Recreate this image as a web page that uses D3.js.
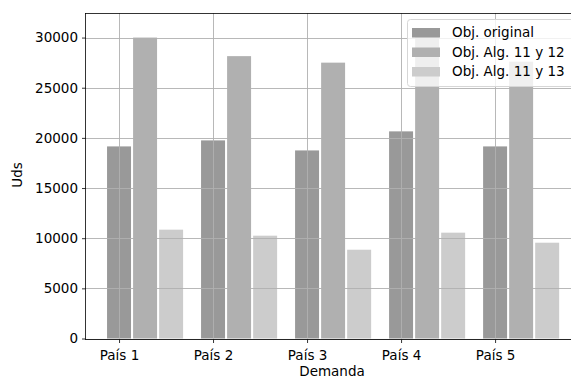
<!DOCTYPE html>
<html>
  <head>
    <meta charset="utf-8" />
    <title>Demanda por país</title>
    <script src="https://d3js.org/d3.v7.min.js"></script>
    <style>
      body { margin: 0; background: #fff; }
      text { font-family: "DejaVu Sans", sans-serif; fill: #000; }
    </style>
  </head>
  <body>
    <script>
      let categories = ["País 1", "País 2", "País 3", "País 4", "País 5"];
      let seriesNames = ["Obj. original", "Obj. Alg. 11 y 12", "Obj. Alg. 11 y 13"];
      let original = [19150, 19750, 18750, 20650, 19150];
      let alg1112 = [30000, 28150, 27500, 30700, 27600];
      let alg1113 = [10850, 10250, 8850, 10550, 9550];
      let yTicks = [0, 5000, 10000, 15000, 20000, 25000, 30000];

      let series = [original, alg1112, alg1113];
      let colors = ["#999999", "#b0b0b0", "#cccccc"];

      let width = 571;
      let height = 383;
      let margin = { left: 85, right: -4, top: 13, bottom: 45 };

      let svg = d3
        .select("body")
        .append("svg")
        .attr("width", width)
        .attr("height", height);

      // x: group i sits at i, bars offset by a fixed step
      let barStep = 0.277;
      let barWidth = 0.255;
      let x = d3
        .scaleLinear()
        .domain([-0.362, 4.85])
        .range([margin.left, width - margin.right]);
      let y = d3
        .scaleLinear()
        .domain([0, 32450])
        .range([height - margin.bottom + 0.5, margin.top]);

      // bars
      series.forEach((vals, j) => {
        svg
          .append("g")
          .selectAll("rect")
          .data(vals)
          .join("rect")
          .attr("x", (d, i) => x(i + j * barStep - barWidth / 2))
          .attr("width", x(barWidth) - x(0))
          .attr("y", (d) => y(d))
          .attr("height", (d) => y(0) - y(d))
          .attr("fill", colors[j]);
      });

      // grid on top of bars
      let grid = svg.append("g").attr("stroke", "#b0b0b0").attr("stroke-width", 0.9);
      grid
        .selectAll(".gy")
        .data(yTicks)
        .join("line")
        .attr("x1", margin.left)
        .attr("x2", width)
        .attr("y1", (d) => Math.round(y(d)) + 0.5)
        .attr("y2", (d) => Math.round(y(d)) + 0.5);
      grid
        .selectAll(".gx")
        .data(categories)
        .join("line")
        .attr("x1", (d, i) => Math.round(x(i)) + 0.5)
        .attr("x2", (d, i) => Math.round(x(i)) + 0.5)
        .attr("y1", margin.top)
        .attr("y2", y(0));

      // axes
      let xAxis = d3
        .axisBottom(x)
        .tickValues(d3.range(categories.length))
        .tickFormat((i) => categories[i])
        .tickSize(3.5)
        .tickPadding(4);
      let yAxis = d3.axisLeft(y).tickValues(yTicks).tickFormat(d3.format("d")).tickSize(3.5).tickPadding(4);

      let gx = svg
        .append("g")
        .attr("transform", `translate(0,${Math.round(y(0)) + 0.5})`)
        .call(xAxis);
      let gy = svg
        .append("g")
        .attr("transform", `translate(${margin.left + 0.5},0)`)
        .call(yAxis);
      [gx, gy].forEach((g) => {
        g.select(".domain").remove();
        g.selectAll(".tick line").attr("stroke", "#000").attr("stroke-width", 0.8);
        g.selectAll(".tick text").style("font-size", "13.5px").attr("fill", "#000");
      });
      gx.selectAll(".tick text").attr("dy", "0.95em");

      // legend
      let lg = svg.append("g").attr("transform", "translate(407,19)");
      lg.append("rect")
        .attr("x", 0.5)
        .attr("y", 0.5)
        .attr("width", 180)
        .attr("height", 67)
        .attr("rx", 3)
        .attr("fill", "#fff")
        .attr("fill-opacity", 0.8)
        .attr("stroke", "#d6d6d6");
      seriesNames.forEach((name, j) => {
        let cy = 13.5 + j * 19.5;
        lg.append("rect")
          .attr("x", 5)
          .attr("y", cy - 4.5)
          .attr("width", 28)
          .attr("height", 9.5)
          .attr("fill", colors[j]);
        lg.append("text")
          .attr("x", 45)
          .attr("y", cy)
          .attr("dy", "0.36em")
          .style("font-size", "13.5px")
          .text(name);
      });

      // spines
      let spines = svg.append("g").attr("stroke", "#000").attr("stroke-width", 0.8).attr("fill", "none");
      spines.append("line").attr("x1", margin.left + 0.5).attr("x2", margin.left + 0.5).attr("y1", margin.top).attr("y2", Math.round(y(0)) + 0.5);
      spines.append("line").attr("x1", margin.left).attr("x2", width).attr("y1", Math.round(y(0)) + 0.5).attr("y2", Math.round(y(0)) + 0.5);
      spines.append("line").attr("x1", margin.left).attr("x2", width).attr("y1", margin.top + 0.5).attr("y2", margin.top + 0.5);

      // axis labels
      svg
        .append("text")
        .attr("x", 332)
        .attr("y", 376)
        .attr("text-anchor", "middle")
        .style("font-size", "13.5px")
        .text("Demanda");
      svg
        .append("text")
        .attr("transform", "translate(22,175) rotate(-90)")
        .attr("text-anchor", "middle")
        .style("font-size", "13.5px")
        .text("Uds");
    </script>
  </body>
</html>
